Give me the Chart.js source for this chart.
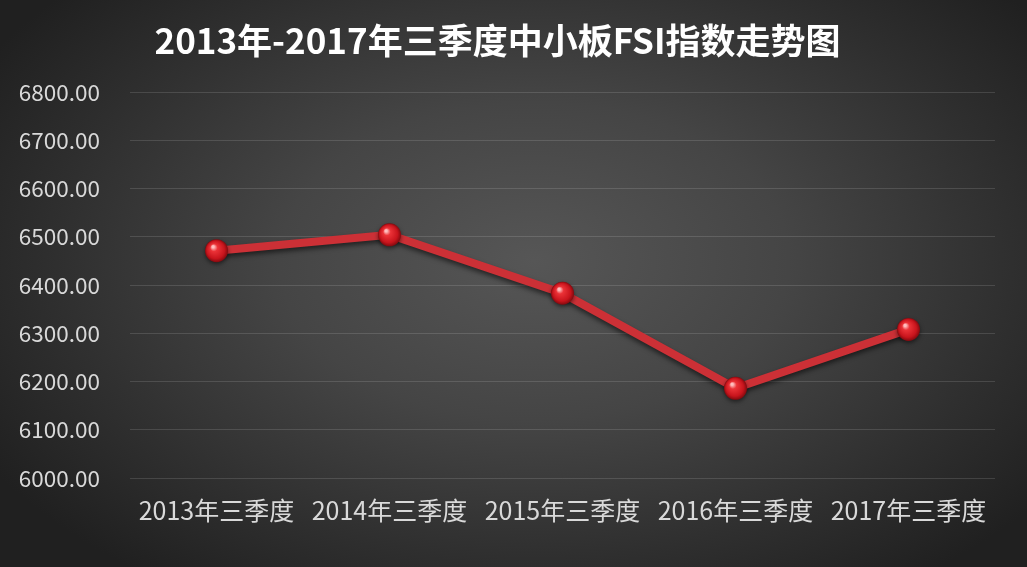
<!DOCTYPE html>
<html>
<head>
<meta charset="utf-8">
<script src="https://cdn.jsdelivr.net/npm/chart.js@4"></script>
<style>
    html, body { margin: 0; padding: 0; }
    body {
        width: 1027px;
        height: 567px;
        background: radial-gradient(ellipse 62% 70% at 52% 46%, #565656 0%, #454545 40%, #2f2f2f 75%, #202020 100%);
    }
    #wrap { width: 1027px; height: 567px; }
</style>
</head>
<body>
<div id="wrap"><canvas id="fsiChart"></canvas></div>
<script>
const categories = ['2013年三季度', '2014年三季度', '2015年三季度', '2016年三季度', '2017年三季度'];
const fsiValues = [6471, 6504, 6383, 6186, 6308];
const yMin = 6000;
const yMax = 6800;
const yStep = 100;
const chartTitle = '2013年-2017年三季度中小板FSI指数走势图';

const fontFamily = '"Noto Sans CJK SC", "Noto Sans", sans-serif';

// shadow under the line, and glossy sphere markers on top
const lineShadow = {
    id: 'lineShadow',
    beforeDatasetDraw(chart) {
        const ctx = chart.ctx;
        ctx.save();
        ctx.shadowColor = 'rgba(0, 0, 0, 0.55)';
        ctx.shadowBlur = 5;
        ctx.shadowOffsetY = 3;
    },
    afterDatasetDraw(chart) {
        chart.ctx.restore();
    }
};

const sphereMarkers = {
    id: 'sphereMarkers',
    afterDatasetsDraw(chart) {
        const ctx = chart.ctx;
        const meta = chart.getDatasetMeta(0);
        meta.data.forEach(function (pt) {
            const r = pt.options.radius;
            const g = ctx.createRadialGradient(pt.x - r * 0.3, pt.y - r * 0.35, r * 0.1, pt.x, pt.y, r);
            g.addColorStop(0, 'rgba(255, 190, 190, 1)');
            g.addColorStop(0.25, 'rgba(235, 50, 55, 1)');
            g.addColorStop(0.75, 'rgba(200, 20, 28, 1)');
            g.addColorStop(1, 'rgba(130, 10, 15, 1)');
            ctx.save();
            ctx.shadowColor = 'rgba(0, 0, 0, 0.5)';
            ctx.shadowBlur = 4;
            ctx.shadowOffsetY = 2;
            ctx.beginPath();
            ctx.arc(pt.x, pt.y, r, 0, Math.PI * 2);
            ctx.fillStyle = g;
            ctx.fill();
            ctx.restore();
        });
    }
};

const ctx = document.getElementById('fsiChart').getContext('2d');
new Chart(ctx, {
    type: 'line',
    data: {
        labels: categories,
        datasets: [{
            label: 'FSI指数',
            data: fsiValues,
            borderColor: 'rgb(204, 48, 54)',
            borderWidth: 8,
            pointRadius: 11.5,
            pointBackgroundColor: 'rgba(0,0,0,0)',
            pointBorderWidth: 0,
            tension: 0,
            fill: false
        }]
    },
    options: {
        responsive: true,
        maintainAspectRatio: false,
        animation: false,
        layout: {
            padding: { left: 0, right: 32, top: 0, bottom: 25 }
        },
        plugins: {
            legend: { display: false },
            tooltip: { enabled: false },
            title: {
                display: true,
                text: chartTitle,
                color: '#ffffff',
                font: { family: fontFamily, size: 35, weight: 'bold' },
                padding: { top: 20, bottom: 30 }
            }
        },
        scales: {
            x: {
                offset: true,
                grid: { display: false, drawTicks: false },
                border: { display: false },
                ticks: {
                    color: '#d9d9d9',
                    font: { family: fontFamily, size: 25 },
                    padding: 17,
                    maxRotation: 0
                }
            },
            y: {
                min: yMin,
                max: yMax,
                grid: { color: 'rgba(255, 255, 255, 0.13)', lineWidth: 1, drawTicks: false },
                border: { display: false },
                ticks: {
                    stepSize: yStep,
                    color: '#d9d9d9',
                    font: { family: fontFamily, size: 22.5 },
                    padding: 30,
                    callback: function (v) { return v.toFixed(2); }
                },
                afterFit: function (scale) { scale.width = 130; }
            }
        }
    },
    plugins: [lineShadow, sphereMarkers]
});
</script>
</body>
</html>
